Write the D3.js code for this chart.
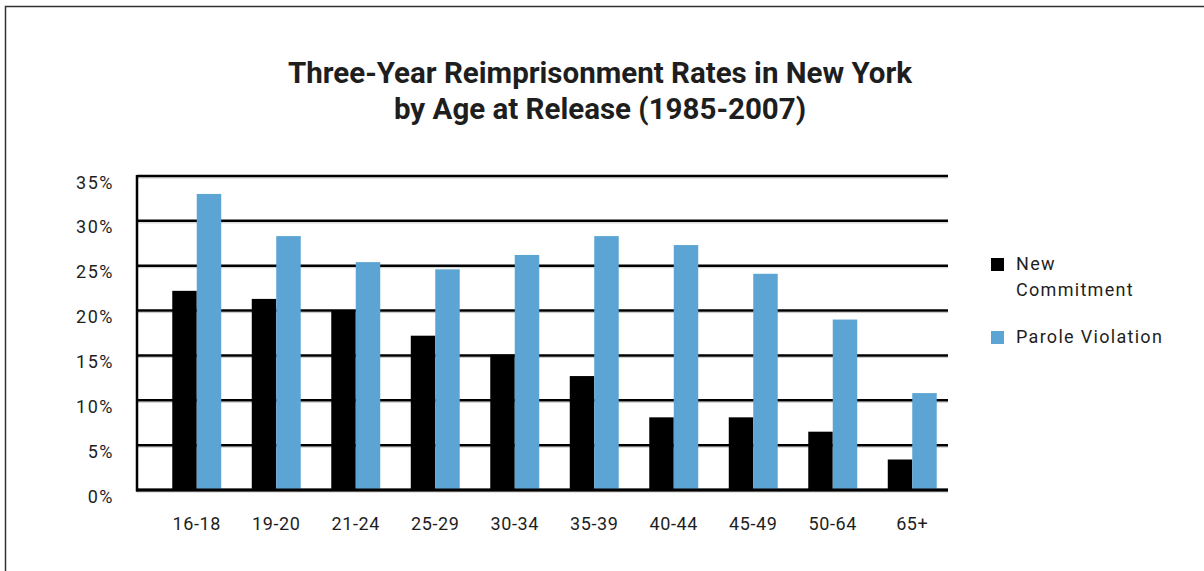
<!DOCTYPE html>
<html>
<head>
<meta charset="utf-8">
<script src="https://cdn.jsdelivr.net/npm/d3@7"></script>
<style>
  html, body { margin: 0; padding: 0; background: #fff; }
  svg { display: block; }
  text { font-family: Roboto, "Noto Sans", sans-serif; fill: #1e1e1e; }
</style>
</head>
<body>
<svg id="chart" width="1204" height="571"></svg>
<script>
const categories = ["16-18","19-20","21-24","25-29","30-34","35-39","40-44","45-49","50-64","65+"];
const seriesNames = ["New Commitment","Parole Violation"];
const newCommitment = [22.2, 21.3, 20.0, 17.2, 15.1, 12.7, 8.1, 8.1, 6.5, 3.4];
const paroleViolation = [33.0, 28.3, 25.4, 24.6, 26.2, 28.3, 27.3, 24.1, 19.0, 10.8];
const yTicks = [0, 5, 10, 15, 20, 25, 30, 35];
const titleLines = ["Three-Year Reimprisonment Rates in New York", "by Age at Release (1985-2007)"];
const colors = ["#000000", "#5ba4d3"];

const svg = d3.select("#chart");

// outer frame (top and left edges)
svg.append("path")
  .attr("d", "M5.5,571 L5.5,6.5 L1204,6.5")
  .attr("fill", "none").attr("stroke", "#333").attr("stroke-width", 1.5);

const y = d3.scaleLinear().domain([0, 35]).range([490, 176]);
const x0 = d3.scaleBand().domain(categories).range([157, 952]).paddingInner(0.384).paddingOuter(0.192);
const x1 = d3.scaleBand().domain(seriesNames).range([0, x0.bandwidth()]).padding(0);

// gridlines
const grid = svg.append("g");
grid.selectAll("line.shadow").data(yTicks).join("line")
  .attr("class", "shadow")
  .attr("x1", 137).attr("x2", 948)
  .attr("y1", d => y(d) + 2).attr("y2", d => y(d) + 2)
  .attr("stroke", "#c8c8c8").attr("stroke-width", 1);
grid.selectAll("line.main").data(yTicks).join("line")
  .attr("class", "main")
  .attr("x1", 137).attr("x2", 948)
  .attr("y1", d => y(d)).attr("y2", d => y(d))
  .attr("stroke", "#000").attr("stroke-width", 2.5);

// bars
const rows = categories.map((c, i) => ({ cat: c, vals: [newCommitment[i], paroleViolation[i]] }));
const groups = svg.append("g").selectAll("g").data(rows).join("g")
  .attr("transform", d => `translate(${x0(d.cat)},0)`);
groups.selectAll("rect").data(d => d.vals.map((v, j) => ({ s: seriesNames[j], v, j }))).join("rect")
  .attr("x", d => x1(d.s))
  .attr("width", x1.bandwidth())
  .attr("y", d => y(d.v))
  .attr("height", d => y(0) - y(d.v))
  .attr("fill", d => colors[d.j]);

// axes lines
svg.append("line").attr("x1", 137).attr("x2", 137).attr("y1", 175).attr("y2", 491.5)
  .attr("stroke", "#000").attr("stroke-width", 2.5);
svg.append("line").attr("x1", 136).attr("x2", 948).attr("y1", y(0)).attr("y2", y(0))
  .attr("stroke", "#000").attr("stroke-width", 3);

// y tick labels
svg.append("g").selectAll("text").data(yTicks).join("text")
  .attr("x", 114).attr("y", d => y(d) + 12.5)
  .attr("text-anchor", "end")
  .style("font-size", "18px")
  .style("letter-spacing", "1.5px")
  .text(d => d + "%");

// x labels
svg.append("g").selectAll("text").data(categories).join("text")
  .attr("x", d => x0(d) + x0.bandwidth() / 2)
  .attr("y", 530)
  .attr("text-anchor", "middle")
  .style("font-size", "18px")
  .style("letter-spacing", "0.6px")
  .text(d => d);

// title
svg.append("g").selectAll("text").data(titleLines).join("text")
  .attr("x", 600).attr("y", (d, i) => 83 + i * 36)
  .attr("text-anchor", "middle")
  .style("font-size", "29.5px").style("font-weight", "bold")
  .text(d => d);

// legend
const legend = svg.append("g");
const legendItems = [
  { color: colors[0], lines: ["New", "Commitment"], y: 258 },
  { color: colors[1], lines: ["Parole Violation"], y: 331 }
];
legendItems.forEach(it => {
  legend.append("rect").attr("x", 991).attr("y", it.y).attr("width", 13).attr("height", 13).attr("fill", it.color);
  it.lines.forEach((l, k) => {
    legend.append("text").attr("x", 1016).attr("y", it.y + 12 + k * 26)
      .style("font-size", "18px").style("letter-spacing", "1.3px").text(l);
  });
});
</script>
</body>
</html>
